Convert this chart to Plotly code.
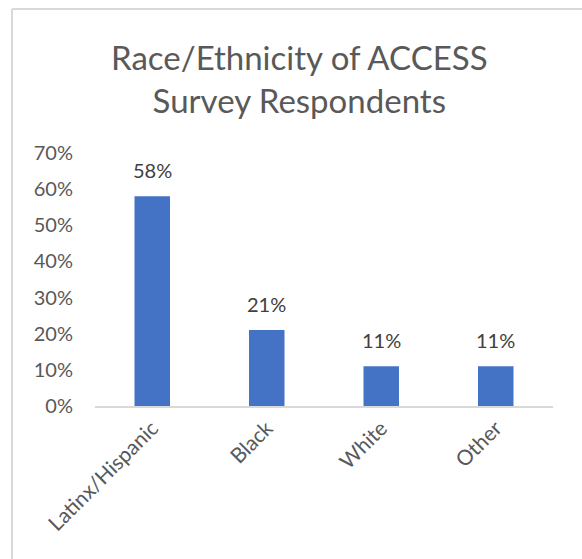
import plotly.graph_objects as go

categories = ["Latinx/Hispanic", "Black", "White", "Other"]
values = [0.58, 0.21, 0.11, 0.11]
labels = ["58%", "21%", "11%", "11%"]
y_ticks = [0, 0.1, 0.2, 0.3, 0.4, 0.5, 0.6, 0.7]
y_ticklabels = ["0%", "10%", "20%", "30%", "40%", "50%", "60%", "70%"]

W, H = 582, 559
L, R, T, B = 95, 29, 153, 153
pw, ph = W - L - R, H - T - B

FONT = "Lato"
fig = go.Figure(go.Bar(
    x=categories, y=values,
    marker=dict(color="#4472C4", line=dict(width=0)),
    width=0.31,
))

def px(x):
    return (x - L) / pw

def py(y):
    return (H - B - y) / ph

annots = [dict(
    text="Race/Ethnicity of ACCESS<br>Survey Respondents",
    xref="paper", yref="paper", x=px(299), y=py(35),
    xanchor="center", yanchor="top", showarrow=False,
    font=dict(family=FONT, size=33, color="#595959"),
)]
for c, v, t in zip(categories, values, labels):
    annots.append(dict(x=c, y=v, text=t, xref="x", yref="y",
                       yanchor="bottom", yshift=12, showarrow=False,
                       font=dict(family=FONT, size=20, color="#404040")))

fig.update_layout(
    width=W, height=H,
    margin=dict(l=L, r=R, t=T, b=B),
    paper_bgcolor="white", plot_bgcolor="white",
    showlegend=False,
    font=dict(family=FONT, color="#595959"),
    xaxis=dict(showline=True, linecolor="#d9d9d9", linewidth=1.5,
               tickangle=-45, tickfont=dict(size=21, color="#595959"),
               ticks="", showgrid=False),
    yaxis=dict(range=[0, 0.7], tickvals=y_ticks, ticktext=y_ticklabels,
               showgrid=False, zeroline=False, showline=False,
               tickfont=dict(size=20, color="#595959"), ticks="",
               ticklabelstandoff=21),
    annotations=annots,
    shapes=[
        dict(type="line", xref="paper", yref="paper", x0=px(12), x1=px(12),
             y0=py(9), y1=py(H + 5), line=dict(color="#d9d9d9", width=2)),
        dict(type="line", xref="paper", yref="paper", x0=px(12), x1=px(W + 5),
             y0=py(9), y1=py(9), line=dict(color="#d9d9d9", width=2)),
    ],
)

fig.write_html("out.html")
